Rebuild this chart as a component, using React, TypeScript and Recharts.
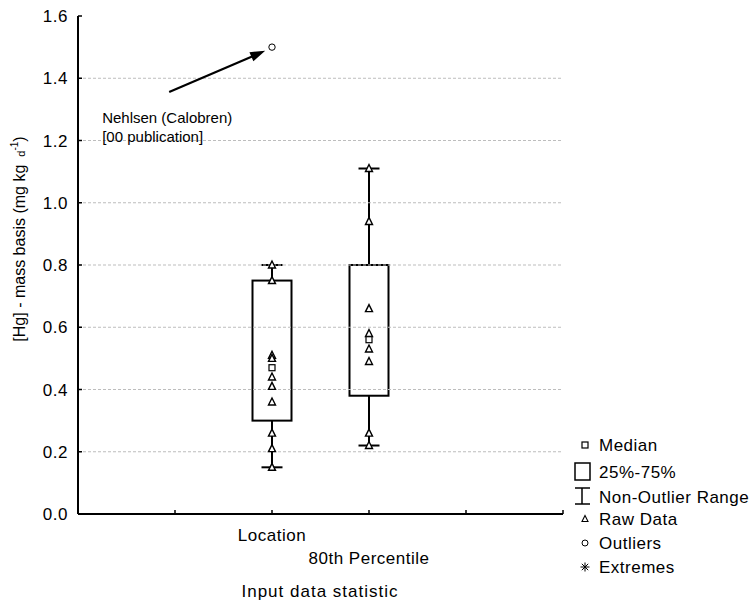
import { ComposedChart, Bar, Scatter, XAxis, YAxis, ReferenceLine, Legend } from "recharts";

const FONT = '"Liberation Sans", Arial, sans-serif';

const categories = ["Location", "80th Percentile"];
const categoryX = [2, 3];
const xTicks = [1, 2, 3, 4, 5];
const yTicks = [0, 0.2, 0.4, 0.6, 0.8, 1.0, 1.2, 1.4, 1.6];
const gridValues = [0.2, 0.4, 0.6, 0.8, 1.0, 1.2, 1.4];

// box statistics per category
const whiskerLow = [0.15, 0.22];
const quartile1 = [0.3, 0.38];
const medians = [0.47, 0.56];
const quartile3 = [0.75, 0.8];
const whiskerHigh = [0.8, 1.11];

const rawLocation = [0.8, 0.75, 0.51, 0.5, 0.44, 0.41, 0.36, 0.26, 0.21, 0.15];
const rawPercentile80 = [1.11, 0.94, 0.66, 0.58, 0.53, 0.49, 0.26, 0.22];

const outlierCategory = ["Location"];
const outlierValues = [1.5];

const annotationStart = [0.94, 1.356];
const annotationEnd = [1.93, 1.488];
const annotationText = ["Nehlsen (Calobren)", "[00 publication]"];

const legendItems = ["Median", "25%-75%", "Non-Outlier Range", "Raw Data", "Outliers", "Extremes"];

const boxData = categories.map((name, i) => ({
  name,
  x: categoryX[i],
  range: [whiskerLow[i], whiskerHigh[i]],
  q1: quartile1[i],
  q3: quartile3[i],
}));

const rawData = [
  ...rawLocation.map((y) => ({ x: categoryX[0], y })),
  ...rawPercentile80.map((y) => ({ x: categoryX[1], y })),
];
const medianData = medians.map((y, i) => ({ x: categoryX[i], y }));
const outlierData = outlierValues.map((y, i) => ({ x: categoryX[categories.indexOf(outlierCategory[i])], y }));

function BoxShape(props: any) {
  const { x, y, width, height, payload } = props;
  const [lo, hi] = payload.range;
  const top = Math.min(y, y + height);
  const h = Math.abs(height);
  const toPx = (v: number) => top + (h * (hi - v)) / (hi - lo);
  const cx = x + width / 2;
  const boxTop = toPx(payload.q3);
  const boxBottom = toPx(payload.q1);
  const cap = 10.5;
  return (
    <g stroke="#000" strokeWidth={2}>
      <line x1={cx} x2={cx} y1={top} y2={top + h} />
      <line x1={cx - cap} x2={cx + cap} y1={top} y2={top} />
      <line x1={cx - cap} x2={cx + cap} y1={top + h} y2={top + h} />
      <rect x={x} y={boxTop} width={width} height={boxBottom - boxTop} fill="#fff" />
    </g>
  );
}

function Triangle(props: any) {
  const { cx, cy } = props;
  return (
    <polygon
      points={`${cx},${cy - 4} ${cx - 3.5},${cy + 3} ${cx + 3.5},${cy + 3}`}
      fill="#fff"
      stroke="#000"
      strokeWidth={1.4}
    />
  );
}

function Square(props: any) {
  const { cx, cy } = props;
  return <rect x={cx - 3} y={cy - 3} width={6} height={6} fill="#fff" stroke="#000" strokeWidth={1.2} />;
}

function Circle(props: any) {
  const { cx, cy } = props;
  return <circle cx={cx} cy={cy} r={3.2} fill="#fff" stroke="#000" strokeWidth={1} />;
}

function XTick(props: any) {
  const { x, y, payload } = props;
  const i = categoryX.indexOf(payload.value);
  return (
    <g>
      <line x1={x} x2={x} y1={y} y2={y - 4} stroke="#000" strokeWidth={1.5} />
      {i >= 0 && (
        <text x={x} y={y + 27 + i * 23} textAnchor="middle" fontSize={17} letterSpacing={0.5} fill="#000" fontFamily={FONT}>
          {categories[i]}
        </text>
      )}
    </g>
  );
}

function YTick(props: any) {
  const { x, y, payload } = props;
  return (
    <g>
      <line x1={x} x2={x + 4} y1={y} y2={y} stroke="#000" strokeWidth={1.5} />
      <text x={x - 10} y={y} dy="0.36em" textAnchor="end" fontSize={17} letterSpacing={0.5} fill="#000" fontFamily={FONT}>
        {payload.value.toFixed(1)}
      </text>
    </g>
  );
}

function Annotation(props: any) {
  const { x1, y1, x2, y2 } = props;
  const dx = x2 - x1;
  const dy = y2 - y1;
  const len = Math.sqrt(dx * dx + dy * dy);
  const ux = dx / len;
  const uy = dy / len;
  const head = 15;
  const half = 5;
  const bx = x2 - ux * head;
  const by = y2 - uy * head;
  return (
    <g>
      <line x1={x1} y1={y1} x2={bx + ux * 2} y2={by + uy * 2} stroke="#000" strokeWidth={2.2} />
      <polygon
        points={`${x2},${y2} ${bx - uy * half},${by + ux * half} ${bx + uy * half},${by - ux * half}`}
        fill="#000"
      />
      {annotationText.map((t, i) => (
        <text key={t} x={x1 - 67} y={y1 + 31 + i * 19} fontSize={15} fill="#000" fontFamily={FONT}>
          {t}
        </text>
      ))}
    </g>
  );
}

function LegendBox() {
  const rows = [15, 42, 67, 89, 113, 137];
  const ix = 25;
  return (
    <svg width={192} height={150} style={{ display: "block" }}>
      <g stroke="#000" fill="#fff">
        <rect x={ix - 3} y={rows[0] - 3} width={6} height={6} strokeWidth={1.2} />
        <rect x={ix - 10} y={rows[1] - 9} width={15} height={17} strokeWidth={1.5} />
        <line x1={ix - 3} x2={ix - 3} y1={rows[2] - 9} y2={rows[2] + 7} strokeWidth={1.5} />
        <line x1={ix - 10} x2={ix + 5} y1={rows[2] - 9} y2={rows[2] - 9} strokeWidth={1.5} />
        <line x1={ix - 10} x2={ix + 5} y1={rows[2] + 7} y2={rows[2] + 7} strokeWidth={1.5} />
        <polygon points={`${ix},${rows[3] - 3.5} ${ix - 3},${rows[3] + 2.5} ${ix + 3},${rows[3] + 2.5}`} strokeWidth={1.1} />
        <circle cx={ix} cy={rows[4]} r={3} strokeWidth={1} />
        <g strokeWidth={1}>
          <line x1={ix} x2={ix} y1={rows[5] - 4.5} y2={rows[5] + 4.5} />
          <line x1={ix - 4.5} x2={ix + 4.5} y1={rows[5]} y2={rows[5]} />
          <line x1={ix - 3.2} x2={ix + 3.2} y1={rows[5] - 3.2} y2={rows[5] + 3.2} />
          <line x1={ix - 3.2} x2={ix + 3.2} y1={rows[5] + 3.2} y2={rows[5] - 3.2} />
        </g>
      </g>
      {legendItems.map((t, i) => (
        <text key={t} x={39} y={rows[i]} dy="0.36em" fontSize={17} letterSpacing={0.5} fill="#000" fontFamily={FONT}>
          {t}
        </text>
      ))}
    </svg>
  );
}

export default function App() {
  return (
    <div style={{ position: "absolute", left: 0, top: 0, width: 752, height: 606, background: "#fff", fontFamily: FONT }}>
      <ComposedChart
        width={752}
        height={606}
        data={boxData}
        margin={{ top: 16, right: 189, bottom: 0, left: 0 }}
      >
        {gridValues.map((v) => (
          <ReferenceLine key={v} y={v} stroke="#bdbdbd" strokeWidth={1} strokeDasharray="3 2" />
        ))}
        <XAxis
          type="number"
          dataKey="x"
          domain={[0, 5]}
          ticks={xTicks}
          interval={0}
          allowDataOverflow
          height={92}
          tickSize={0}
          tickMargin={0}
          tickLine={false}
          axisLine={{ stroke: "#000", strokeWidth: 2 }}
          tick={<XTick />}
          label={{
            content: (p: any) => {
              const vb = p.viewBox;
              return (
                <text x={vb.x + 242} y={vb.y + 83} textAnchor="middle" fontSize={17} letterSpacing={1} fill="#000" fontFamily={FONT}>
                  Input data statistic
                </text>
              );
            },
          }}
        />
        <YAxis
          type="number"
          domain={[0, 1.6]}
          ticks={yTicks}
          interval={0}
          allowDataOverflow
          width={78}
          tickSize={0}
          tickMargin={0}
          tickLine={false}
          axisLine={{ stroke: "#000", strokeWidth: 2 }}
          tick={<YTick />}
          label={{
            content: () => (
              <text transform="translate(25 239) rotate(-90)" textAnchor="middle" fontSize={16} fill="#000" fontFamily={FONT}>
                [Hg] - mass basis (mg kg
                <tspan dx={8} fontSize={11}>d</tspan>
                <tspan fontSize={10} dy={-7}>-1</tspan>
                <tspan dy={7}>)</tspan>
              </text>
            ),
          }}
        />
        <Bar dataKey="range" barSize={39} shape={<BoxShape />} isAnimationActive={false} />
        <Scatter data={rawData} dataKey="y" shape={<Triangle />} isAnimationActive={false} />
        <Scatter data={medianData} dataKey="y" shape={<Square />} isAnimationActive={false} />
        <Scatter data={outlierData} dataKey="y" shape={<Circle />} isAnimationActive={false} />
        <ReferenceLine
          segment={[
            { x: annotationStart[0], y: annotationStart[1] },
            { x: annotationEnd[0], y: annotationEnd[1] },
          ]}
          shape={(p: any) => <Annotation {...p} />}
        />
        <Legend
          layout="vertical"
          align="center"
          verticalAlign="middle"
          wrapperStyle={{ left: 560, top: 430, width: 192, height: 150 }}
          content={() => <LegendBox />}
        />
      </ComposedChart>
    </div>
  );
}
